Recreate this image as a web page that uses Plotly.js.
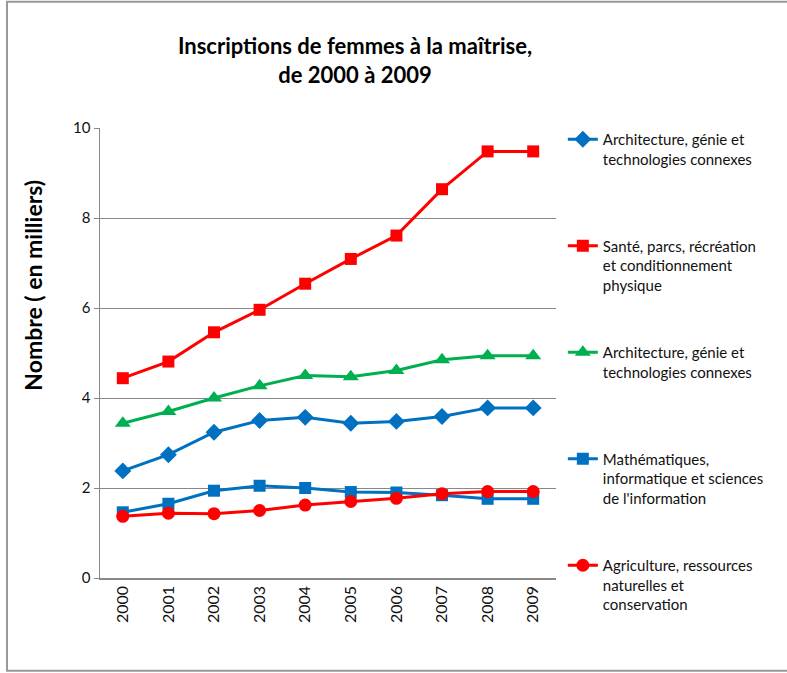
<!DOCTYPE html>
<html>
<head>
<meta charset="utf-8">
<script src="https://cdn.plot.ly/plotly-3.0.1.min.js"></script>
<style>html,body{margin:0;padding:0;background:#fff;}#chart{width:787px;height:673px;}</style>
</head>
<body>
<div id="chart"></div>
<script>
const years = ['2000','2001','2002','2003','2004','2005','2006','2007','2008','2009'];
const archBlue = [2.38, 2.74, 3.24, 3.50, 3.57, 3.44, 3.48, 3.59, 3.78, 3.78];
const sante = [4.44, 4.81, 5.46, 5.96, 6.54, 7.09, 7.61, 8.64, 9.48, 9.48];
const archGreen = [3.44, 3.70, 4.00, 4.27, 4.50, 4.47, 4.61, 4.85, 4.94, 4.94];
const maths = [1.46, 1.65, 1.94, 2.05, 2.00, 1.91, 1.90, 1.84, 1.76, 1.76];
const agri = [1.37, 1.44, 1.43, 1.50, 1.62, 1.70, 1.77, 1.87, 1.92, 1.92];
const names = [
  'Architecture, génie et<br>technologies connexes<br>\u00a0',
  'Santé, parcs, récréation<br>et conditionnement<br>physique',
  'Architecture, génie et<br>technologies connexes<br>\u00a0',
  'Mathématiques,<br>informatique et sciences<br>de l\'information',
  'Agriculture, ressources<br>naturelles et<br>conservation'
];
const yTitle = 'Nombre ( en milliers)';

const series = [archBlue, sante, archGreen, maths, agri];
const colors = ['#0070C0', '#FF0000', '#00B050', '#0070C0', '#FF0000'];
const symbols = ['diamond', 'square', 'triangle-up', 'square', 'circle'];
const sizes = [13, 12, 14, 12, 13];

const traces = series.map((vals, i) => ({
  x: years, y: vals, type: 'scatter', mode: 'lines+markers',
  name: names[i], legendgroup: 'g' + i,
  line: {color: colors[i], width: 3},
  marker: {symbol: symbols[i], size: sizes[i], color: colors[i]}
}));

const font = 'Lato, "Open Sans", sans-serif';
const layout = {
  width: 787, height: 673,
  margin: {l: 100, r: 231, t: 128, b: 95},
  paper_bgcolor: '#fff', plot_bgcolor: '#fff',
  font: {family: font, size: 15, color: '#111'},
  title: {text: '<b>Inscriptions de femmes à la maîtrise,<br>de 2000 à 2009</b>',
          font: {family: font, size: 22, color: '#000'},
          x: 355 / 787, xanchor: 'center', y: 1 - 54 / 673, yanchor: 'middle'},
  xaxis: {type: 'category', tickangle: -90, showgrid: false,
          showline: true, linecolor: '#888', linewidth: 1.5, ticks: '',
          tickfont: {family: font, size: 16, color: '#111'}, zeroline: false,
          range: [-0.5, 9.5], fixedrange: true},
  yaxis: {range: [0, 10], dtick: 2, showgrid: true, gridcolor: '#888', gridwidth: 1,
          showline: true, linecolor: '#888', linewidth: 1.5, ticks: 'outside', ticklen: 5,
          tickcolor: '#888', zeroline: false,
          tickfont: {family: font, size: 15, color: '#111'}},
  annotations: [{text: '<b>' + yTitle + '</b>', textangle: -90, showarrow: false,
                 xref: 'paper', yref: 'paper', x: (33 - 100) / 456, y: (578.3 - 286) / 450,
                 xanchor: 'center', yanchor: 'middle',
                 font: {family: font, size: 23, color: '#000'}}],
  legend: {x: 1.015, xanchor: 'left', y: 1 + 5 / 450, yanchor: 'top', valign: 'top',
           tracegroupgap: 45, bgcolor: 'rgba(0,0,0,0)', maxheight: 640,
           font: {family: font, size: 15, color: '#111'}},
  shapes: [{type: 'rect', xref: 'paper', yref: 'paper',
            x0: (7 - 100) / 456, x1: (820 - 100) / 456,
            y0: (578.3 - 671) / 450, y1: (578.3 - 2) / 450,
            line: {color: '#999', width: 2}, layer: 'below'}],
  showlegend: true
};

Plotly.newPlot('chart', traces, layout, {displayModeBar: false, staticPlot: true});
</script>
</body>
</html>
